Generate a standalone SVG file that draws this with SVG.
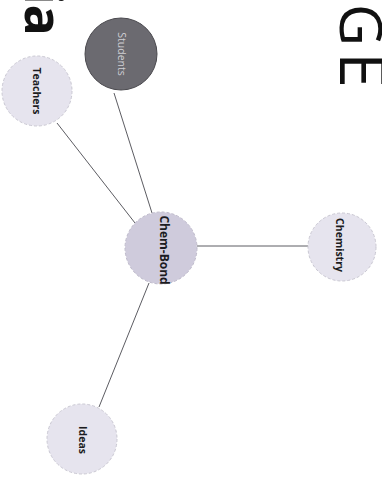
<svg xmlns="http://www.w3.org/2000/svg" width="382" height="483" viewBox="0 0 382 483">
<style>
.node{fill:#e6e4ee;stroke:#c9c7d2;stroke-width:1;stroke-dasharray:3 2}
.center{fill:#cfcbdc;stroke:#bdb9ca}
.dark{fill:#6b6a70;stroke:#4a494e;stroke-dasharray:none}
.lbl{font-family:"Open Sans","Liberation Sans",sans-serif;font-weight:bold;font-size:10.5px;fill:#1c1c22;text-anchor:middle;dominant-baseline:central}
.lbl-dark{fill:#cfcfd4;font-weight:normal}
.edge{stroke:#4a4a50;stroke-width:0.9;fill:none}
.big{font-family:"Open Sans","Liberation Sans",sans-serif;fill:#111}
</style>
<rect width="382" height="483" fill="#ffffff"/>
<text class="big" font-size="58" letter-spacing="6" transform="translate(340,4) rotate(90)"><tspan>G</tspan><tspan font-size="64" dx="0">E</tspan></text>
<text class="big" font-size="52" font-weight="bold" transform="translate(25,36) rotate(90)" text-anchor="end">ia</text>
<g id="connectors">
<line class="edge" x1="114" y1="93" x2="152" y2="213"/>
<line class="edge" x1="57" y1="123" x2="135" y2="223"/>
<line class="edge" x1="197" y1="246" x2="308" y2="246"/>
<line class="edge" x1="149" y1="283" x2="99" y2="407"/>
</g>
<g id="students">
<circle class="node dark" cx="121" cy="54" r="36"/>
<text class="lbl lbl-dark" transform="translate(122,54) rotate(90)">Students</text>
</g>
<g id="teachers">
<circle class="node" cx="37" cy="91" r="35"/>
<text class="lbl" transform="translate(37,91) rotate(90)">Teachers</text>
</g>
<g id="chem-bond">
<circle class="node center" cx="161" cy="248" r="36"/>
<text class="lbl" transform="translate(164,250) rotate(90)" style="font-size:12px">Chem-Bond</text>
</g>
<g id="chemistry">
<circle class="node" cx="342" cy="247" r="34"/>
<text class="lbl" transform="translate(340,245) rotate(90)">Chemistry</text>
</g>
<g id="ideas">
<circle class="node" cx="82" cy="439" r="35"/>
<text class="lbl" transform="translate(83,440) rotate(90)">Ideas</text>
</g>
</svg>
